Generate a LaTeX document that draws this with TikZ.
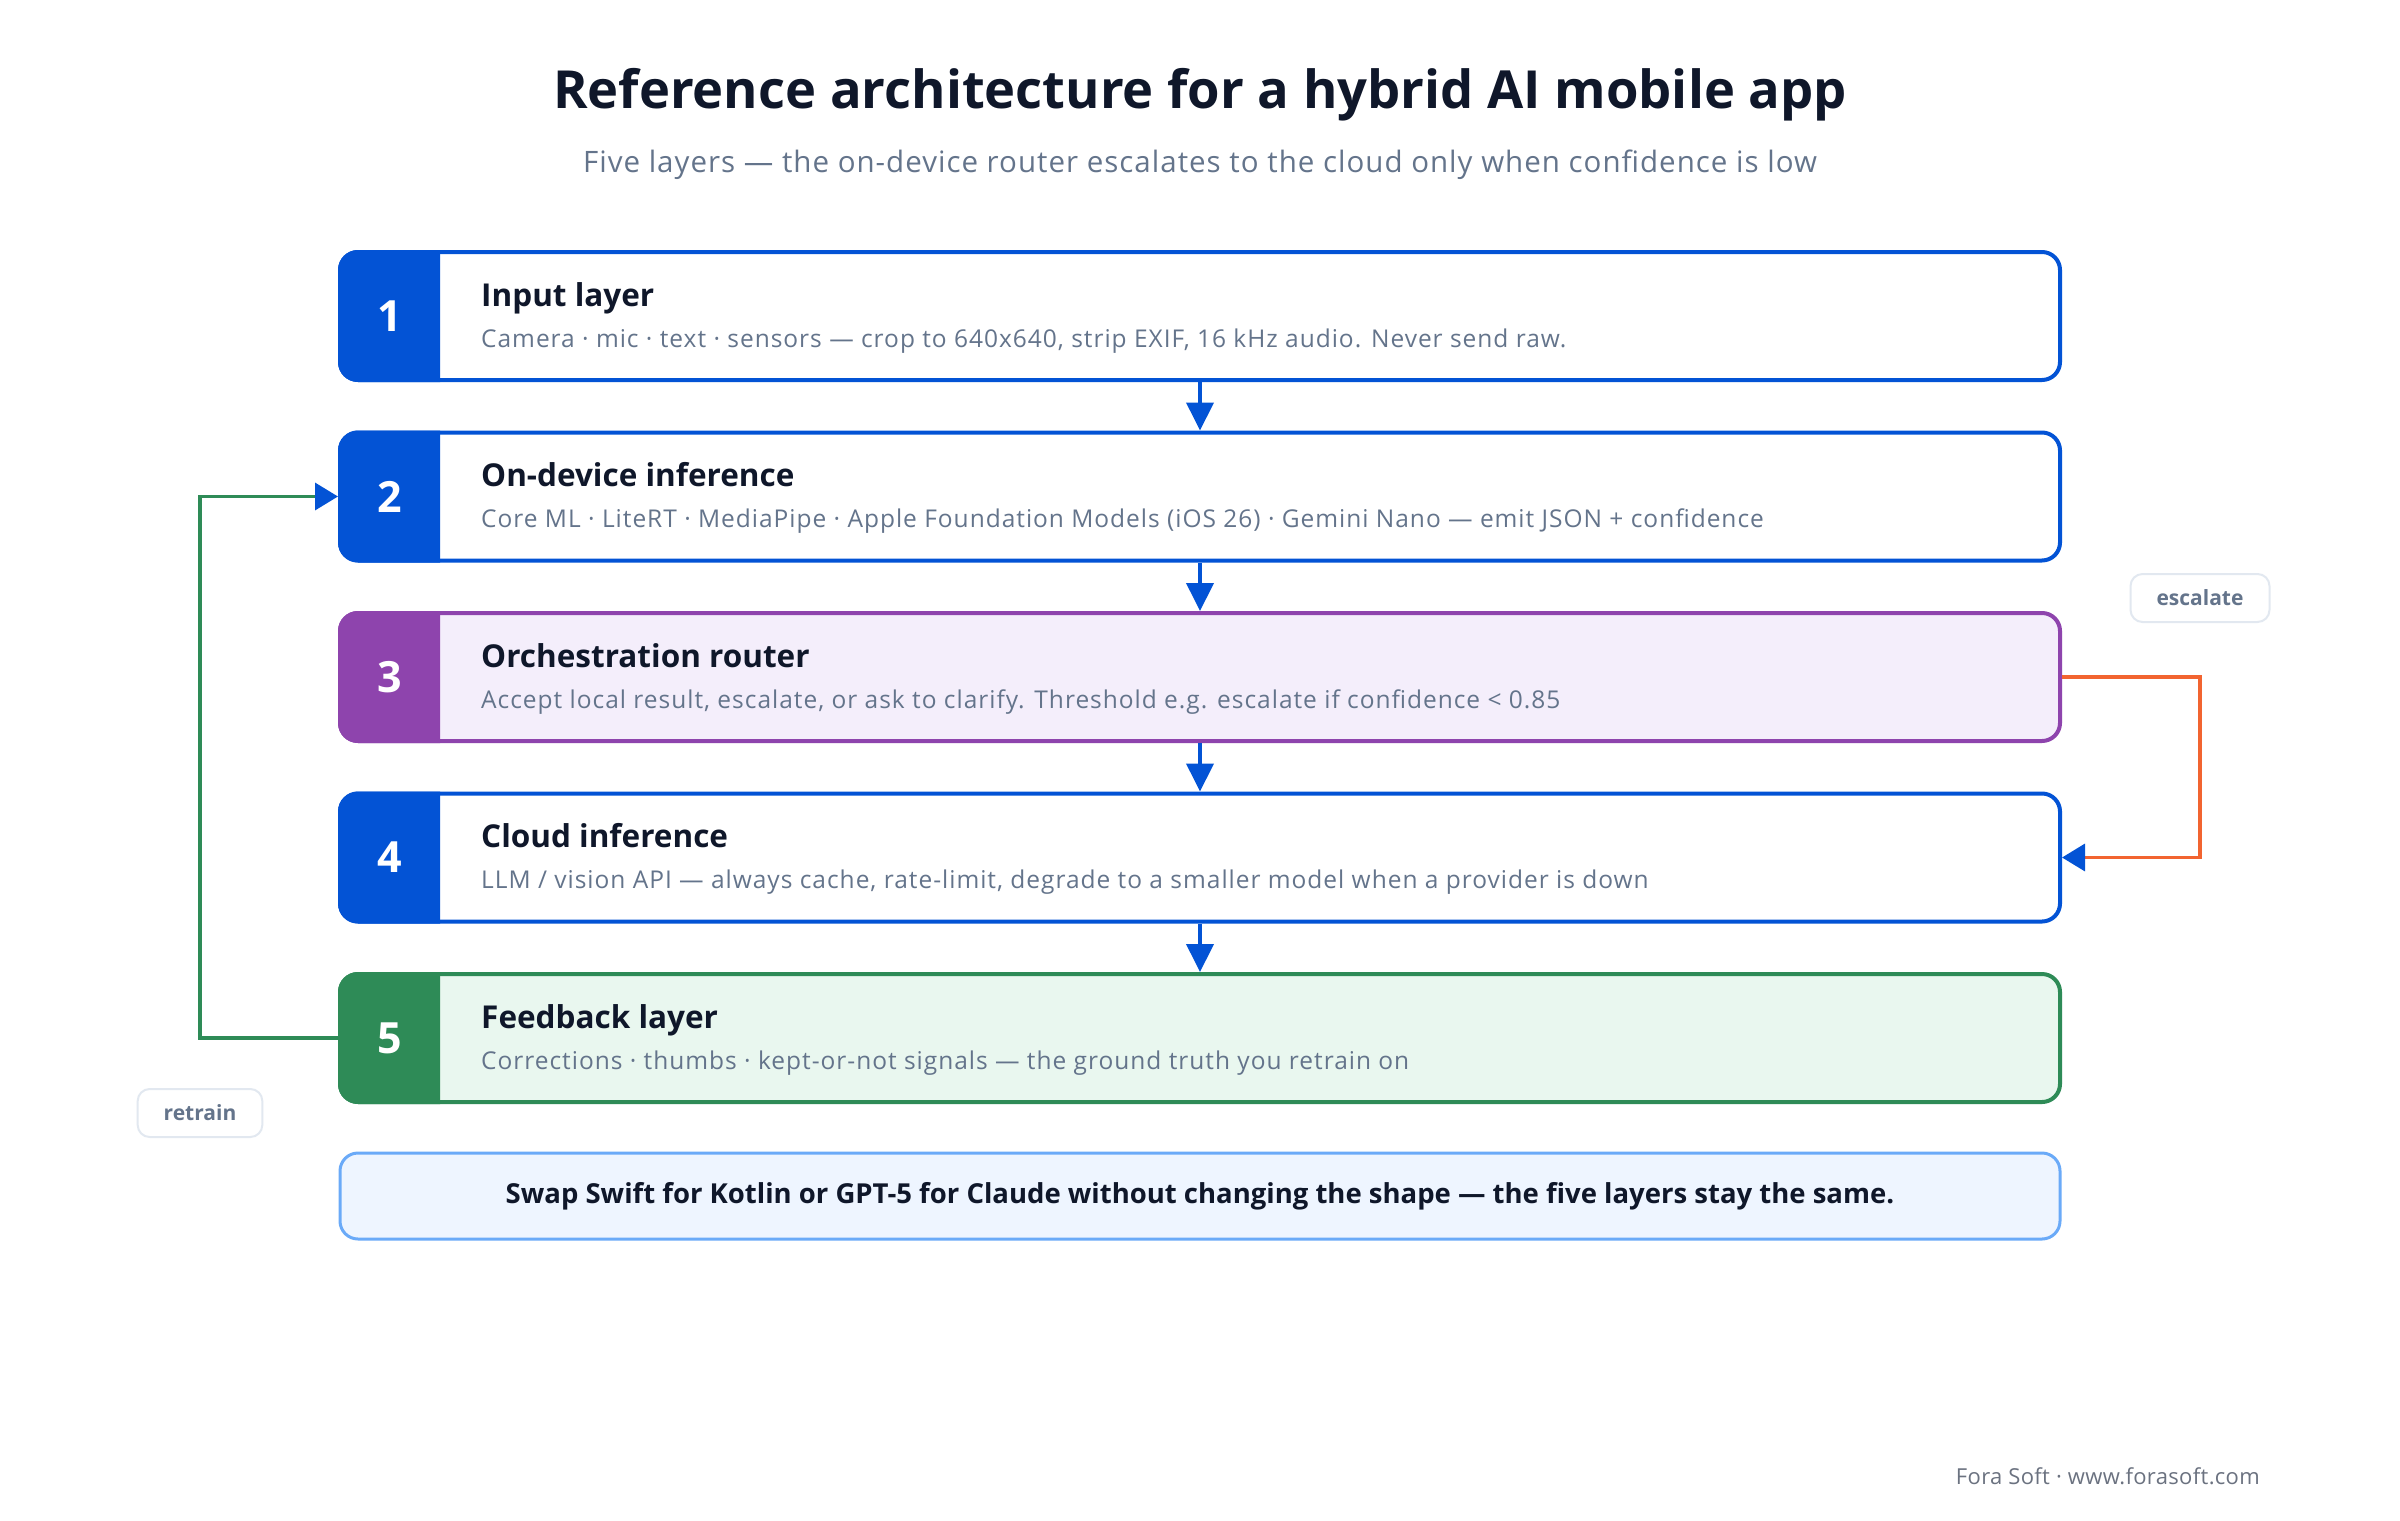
\documentclass[tikz,border=0pt]{standalone}
\usepackage{fontspec}
\setmainfont{Open Sans}
\usetikzlibrary{arrows.meta}
\definecolor{bluemain}{HTML}{0353D5}
\definecolor{purp}{HTML}{8E44AD}
\definecolor{grn}{HTML}{2E8B57}
\definecolor{orng}{HTML}{F26430}
\definecolor{purpfill}{HTML}{F4EEFB}
\definecolor{grnfill}{HTML}{E9F7EF}
\definecolor{footfill}{HTML}{EEF5FF}
\definecolor{footline}{HTML}{6AAAF8}
\definecolor{ink}{HTML}{0F172A}
\definecolor{slate}{HTML}{64748B}
\definecolor{lblline}{HTML}{E2E8F0}
\definecolor{credgray}{HTML}{6B7280}
\tikzset{
  layerbox/.style={rectangle, rounded corners=18pt, line width=4pt, minimum width=1720pt, minimum height=128pt, inner sep=0pt},
  numtext/.style={text=white, font=\fontsize{43}{48}\selectfont\bfseries, inner sep=0pt},
  titletext/.style={anchor=base west, text=ink, font=\fontsize{31.5}{36}\selectfont\bfseries, inner sep=0pt},
  desctext/.style={anchor=base west, text=slate, font=\fontsize{24.5}{28}\selectfont\addfontfeatures{LetterSpace=4.0}, inner sep=0pt},
  flow/.style={bluemain, line width=4pt, -{Triangle[length=28pt,width=27pt]}},
  loopline/.style={line width=3.5pt, -{Triangle[length=23pt,width=27pt,color=bluemain]}},
  lbl/.style={draw=lblline, line width=2pt, fill=white, rounded corners=12pt, inner xsep=26pt, minimum height=48pt, text=slate, font=\fontsize{21}{25}\selectfont\bfseries},
  footbox/.style={draw=footline, fill=footfill, line width=3pt, rounded corners=18pt, minimum width=1720pt, minimum height=86pt, text=ink, font=\fontsize{27.5}{32}\selectfont\bfseries}
}
\newcommand{\drawlayer}[6]{%
  \node[layerbox, draw=#3, fill=#4] (L#1) at (1200,#2) {};
  \begin{scope}
    \clip (330,#2-70) rectangle (440,#2+70);
    \fill[#3, rounded corners=20pt] (338,#2-66) rectangle (2062,#2+66);
  \end{scope}
  \node[numtext] (N#1) at (390,#2) {#1};
  \node[titletext] (T#1) at (481,#2-10) {#5};
  \node[desctext] (D#1) at (481,#2+31) {#6};
}
\begin{document}
\begin{tikzpicture}[x=1pt, y=-1pt]
\fill[white] (0,0) rectangle (2400,1520);
\useasboundingbox (0,0) rectangle (2400,1520);
\node[anchor=base, text=ink, font=\fontsize{52.5}{60}\selectfont\bfseries, inner sep=0pt] (title) at (1200,108) {Reference architecture for a hybrid AI mobile app};
\node[anchor=base, text=slate, font=\fontsize{29.5}{34}\selectfont\addfontfeatures{LetterSpace=3.4}, inner sep=0pt] (subtitle) at (1200,172) {Five layers — the on-device router escalates to the cloud only when confidence is low};
\drawlayer{1}{316}{bluemain}{white}{Input layer}{Camera · mic · text · sensors — crop to 640x640, strip EXIF, 16 kHz audio. Never send raw.}
\drawlayer{2}{496.5}{bluemain}{white}{On-device inference}{Core ML · LiteRT · MediaPipe · Apple Foundation Models (iOS 26) · Gemini Nano — emit JSON + confidence}
\drawlayer{3}{677}{purp}{purpfill}{Orchestration router}{Accept local result, escalate, or ask to clarify. Threshold e.g. escalate if confidence < 0.85}
\drawlayer{4}{857.5}{bluemain}{white}{Cloud inference}{LLM / vision API — always cache, rate-limit, degrade to a smaller model when a provider is down}
\drawlayer{5}{1038}{grn}{grnfill}{Feedback layer}{Corrections · thumbs · kept-or-not signals — the ground truth you retrain on}
\draw[flow] (L1.south) -- (L2.north);
\draw[flow] (L2.south) -- (L3.north);
\draw[flow] (L3.south) -- (L4.north);
\draw[flow] (L4.south) -- (L5.north);
\draw[loopline, orng] (L3.east) -- ++(138,0) |- (L4.east);
\draw[loopline, grn] (L5.west) -- ++(-138,0) |- (L2.west);
\node[lbl] (esc) at (2200,598) {escalate};
\node[lbl] (ret) at (200,1113) {retrain};
\node[footbox] (foot) at (1200,1196) {Swap Swift for Kotlin or GPT-5 for Claude without changing the shape — the five layers stay the same.};
\node[anchor=base east, text=credgray, font=\fontsize{22}{26}\selectfont\addfontfeatures{LetterSpace=1.5}, inner sep=0pt] (credit) at (2260,1484) {Fora Soft · www.forasoft.com};
\end{tikzpicture}
\end{document}
